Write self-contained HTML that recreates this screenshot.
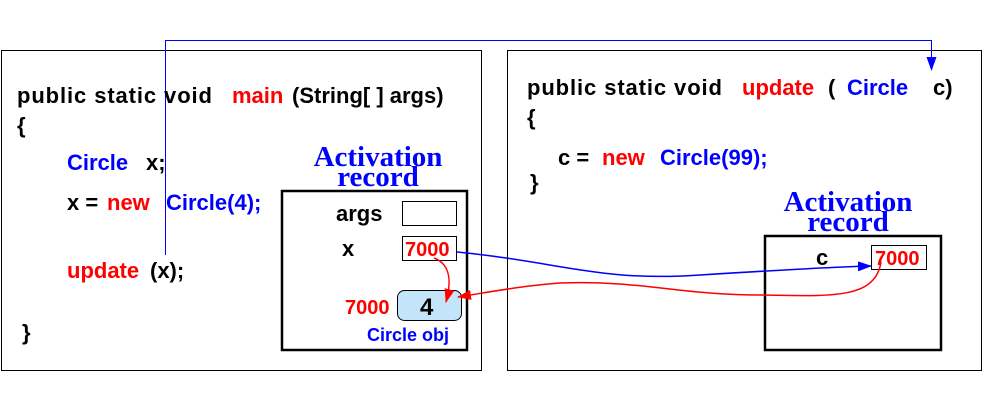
<!DOCTYPE html>
<html><head><style>body{margin:0;background:#fff}svg{display:block}</style></head>
<body>
<svg width="1007" height="416" xmlns="http://www.w3.org/2000/svg" font-family="Liberation Sans, sans-serif" font-weight="bold" font-size="21">
<defs>
<marker id="ab" markerWidth="14" markerHeight="10" refX="13" refY="5" orient="auto" markerUnits="userSpaceOnUse"><path d="M0,0 L14,5 L0,10 Z" fill="#00f"/></marker>
<marker id="ar" markerWidth="14" markerHeight="10" refX="13" refY="5" orient="auto" markerUnits="userSpaceOnUse"><path d="M0,0 L14,5 L0,10 Z" fill="#f00"/></marker>
</defs>
<rect x="1.5" y="50.5" width="480" height="320" fill="none" stroke="#000" stroke-width="1"/>
<rect x="507.5" y="50.5" width="474" height="320" fill="none" stroke="#000" stroke-width="1"/>
<polyline points="165.5,255 165.5,40.5 931.5,40.5 931.5,70" fill="none" stroke="#00f" stroke-width="1" marker-end="url(#ab)"/>

<text x="17" y="103" font-size="22" textLength="195">public static void</text>
<text x="232" y="103" fill="#f00" font-size="22">main</text>
<text x="292" y="103" font-size="22">(String[ ] args)</text>
<text x="17" y="133" font-size="22">{</text>
<text x="67" y="170" fill="#00f" font-size="22">Circle</text><text x="146" y="170" font-size="22">x;</text>
<text x="67" y="210" font-size="22">x =</text><text x="107" y="210" fill="#f00" font-size="22">new</text><text x="166" y="210" fill="#00f" font-size="22">Circle(4);</text>
<text x="67" y="278" fill="#f00" font-size="22">update</text><text x="150" y="278" font-size="22">(x);</text>
<text x="22" y="340" font-size="22">}</text>

<g font-family="Liberation Serif, serif" font-size="29" fill="#00f" text-anchor="middle">
<text x="378" y="166">Activation</text><text x="378" y="186">record</text>
<text x="848" y="211">Activation</text><text x="848" y="231">record</text>
</g>
<rect x="282" y="191" width="185" height="159" fill="none" stroke="#000" stroke-width="2.5"/>
<text x="336" y="221" font-size="22">args</text>
<rect x="402.5" y="201.5" width="54" height="24" fill="#fff" stroke="#000"/>
<text x="342" y="256" font-size="22">x</text>
<rect x="402.5" y="236.5" width="54" height="24" fill="#fff" stroke="#000"/>
<text x="405" y="256" fill="#f00" font-size="20">7000</text>
<rect x="397.5" y="290.5" width="64" height="30" rx="7" fill="#c4e4fa" stroke="#000"/>
<text x="420" y="315" font-size="24">4</text>
<text x="345" y="314" fill="#f00" font-size="20">7000</text>
<text x="367" y="341" fill="#00f" font-size="18">Circle obj</text>

<text x="527" y="95" font-size="22" textLength="195">public static void</text>
<text x="742" y="95" fill="#f00" font-size="22">update</text>
<text x="828" y="95" font-size="22">(</text>
<text x="847" y="95" fill="#00f" font-size="22">Circle</text>
<text x="933" y="95" font-size="22">c)</text>
<text x="527" y="125" font-size="22">{</text>
<text x="558" y="165" font-size="22">c =</text><text x="602" y="165" fill="#f00" font-size="22">new</text><text x="660" y="165" fill="#00f" font-size="22">Circle(99);</text>
<text x="530" y="190" font-size="22">}</text>

<rect x="765" y="236" width="176" height="114" fill="none" stroke="#000" stroke-width="2.5"/>
<text x="816" y="265" font-size="22">c</text>
<rect x="871.5" y="245.5" width="55" height="24" fill="#fff" stroke="#000"/>
<text x="875" y="265" fill="#f00" font-size="20">7000</text>

<path d="M457,252 C560,262 600,282 700,275 C780,270 830,267 871,266" fill="none" stroke="#00f" stroke-width="1.5" marker-end="url(#ab)"/>
<path d="M881,262 C875,300 830,296 760,295 C680,295 640,280 560,283 C520,286 490,292 458,297" fill="none" stroke="#f00" stroke-width="1.5" marker-end="url(#ar)"/>
<path d="M434,258 C450,264 452,280 446,302" fill="none" stroke="#f00" stroke-width="1.5" marker-end="url(#ar)"/>
</svg>
</body></html>
